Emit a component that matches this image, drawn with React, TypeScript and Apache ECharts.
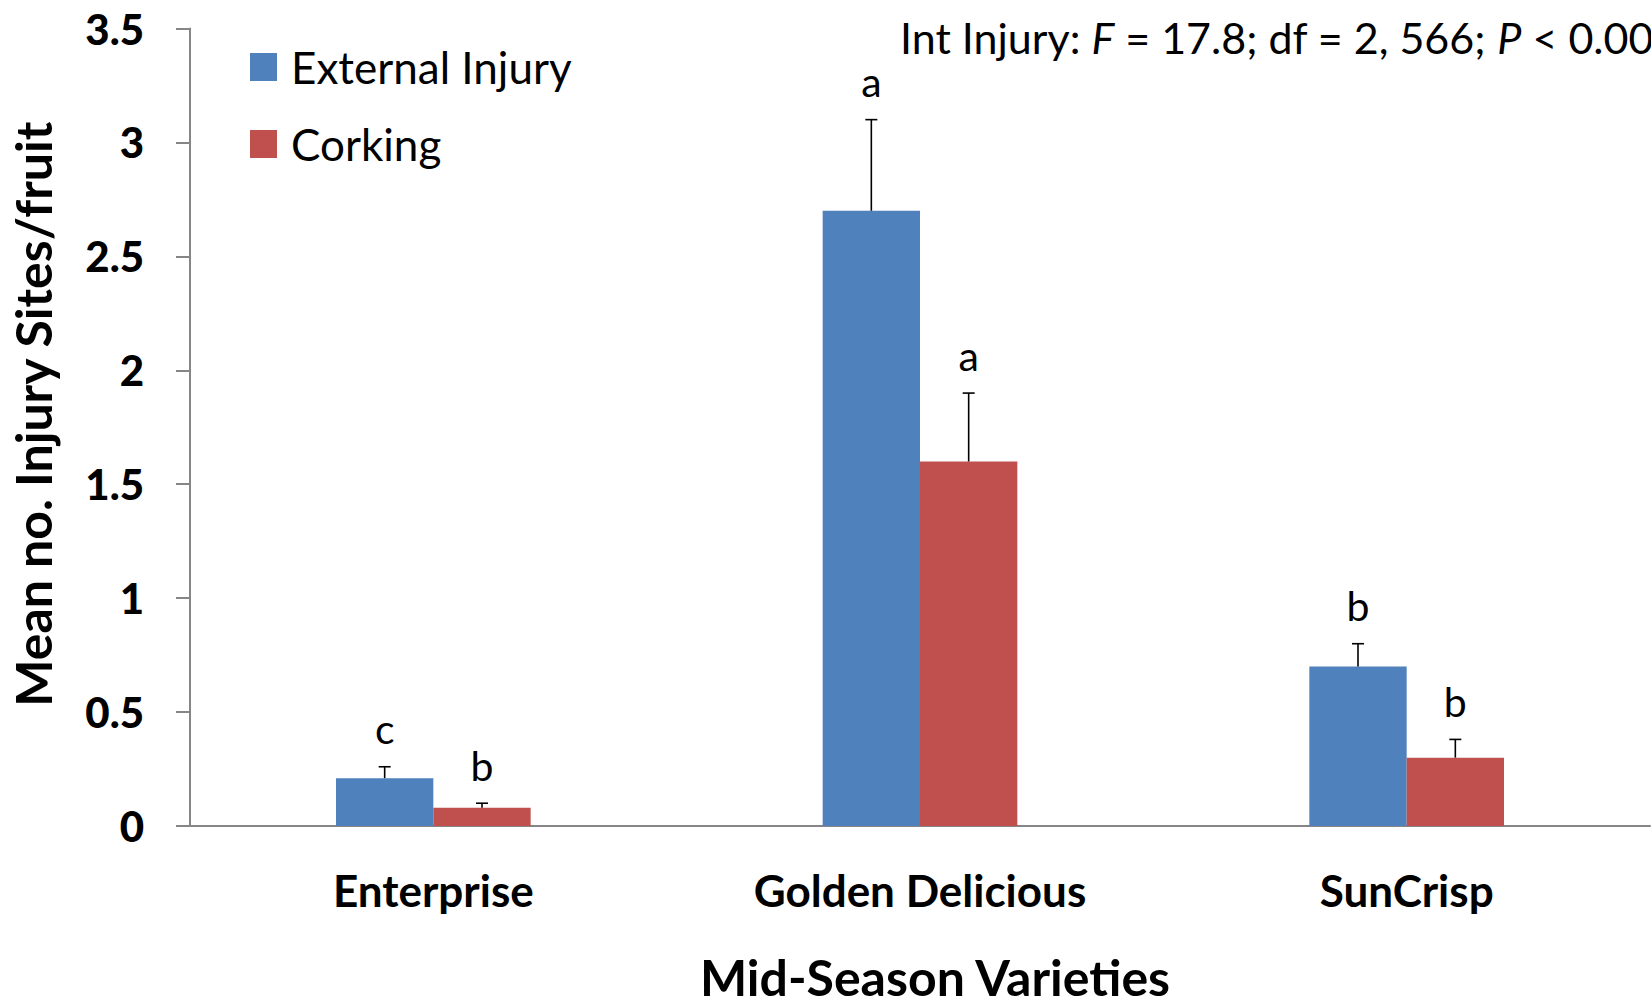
import React, { useEffect, useRef } from "react";
import * as echarts from "echarts";

const categories = ["Enterprise", "Golden Delicious", "SunCrisp"];
const externalInjury = [0.21, 2.7, 0.7];
const externalInjuryUpper = [0.26, 3.1, 0.8];
const externalLetters = ["c", "a", "b"];
const corking = [0.08, 1.6, 0.3];
const corkingUpper = [0.1, 1.9, 0.38];
const corkingLetters = ["b", "a", "b"];
const yTicks = { min: 0, max: 3.5, interval: 0.5 };

const FONT = "Lato, 'Open Sans', sans-serif";
const BLUE = "#4F81BD";
const RED = "#C0504D";

function errorSeries(name: string, values: number[], upper: number[], letters: string[], offset: number) {
  return {
    type: "custom",
    name: name + " error",
    silent: true,
    z: 5,
    data: values.map((v, i) => [i, v, upper[i]]),
    renderItem: (params: any, api: any) => {
      const i = api.value(0);
      const v = api.value(1);
      const hi = api.value(2);
      const band = api.size([1, 0])[0];
      const x = api.coord([i, 0])[0] + offset * band;
      const y0 = api.coord([i, v])[1];
      const y1 = api.coord([i, hi])[1];
      const cap = 6;
      return {
        type: "group",
        children: [
          { type: "line", shape: { x1: x, y1: y0, x2: x, y2: y1 }, style: { stroke: "#000", lineWidth: 1.6 } },
          { type: "line", shape: { x1: x - cap, y1: y1, x2: x + cap, y2: y1 }, style: { stroke: "#000", lineWidth: 1.6 } },
          {
            type: "text",
            x: x,
            y: y1 - 38,
            style: {
              text: letters[params.dataIndex],
              fill: "#000",
              font: `41px ${FONT}`,
              align: "center",
              verticalAlign: "middle",
            },
          },
        ],
      };
    },
  };
}

export default function App() {
  const ref = useRef<HTMLDivElement>(null);
  useEffect(() => {
    if (!ref.current) return;
    const chart = echarts.init(ref.current, null, { renderer: "svg" });
    chart.setOption({
      animation: false,
      backgroundColor: "#fff",
      grid: { left: 190, right: 1, top: 28.5, bottom: 172, containLabel: false, outerBoundsMode: "none" },
      legend: {
        orient: "vertical",
        left: 245,
        top: 40,
        itemWidth: 27,
        itemHeight: 28,
        itemGap: 33,
        icon: "rect",
        data: ["External Injury", "Corking"],
        textStyle: { fontFamily: FONT, fontSize: 44, color: "#000", lineHeight: 44, padding: [0, 0, 0, 9] },
      },
      xAxis: {
        type: "category",
        data: categories,
        axisLine: { lineStyle: { color: "#868686", width: 2 } },
        axisTick: { show: false },
        axisLabel: { fontFamily: FONT, fontSize: 44, fontWeight: "bold", color: "#000", margin: 42 },
        name: "Mid-Season Varieties",
        nameLocation: "middle",
        nameGap: 126,
        nameTextStyle: { fontFamily: FONT, fontSize: 50, fontWeight: "bold", color: "#000", padding: [0, 0, 0, 30] },
      },
      yAxis: {
        type: "value",
        min: yTicks.min,
        max: yTicks.max,
        interval: yTicks.interval,
        axisLine: { show: true, lineStyle: { color: "#868686", width: 2 } },
        axisTick: { show: true, length: 14, lineStyle: { color: "#868686", width: 2 } },
        splitLine: { show: false },
        axisLabel: { fontFamily: FONT, fontSize: 42, fontWeight: 900, color: "#000", margin: 46 },
        name: "Mean no. Injury Sites/fruit",
        nameLocation: "middle",
        nameGap: 132,
        nameTextStyle: { fontFamily: FONT, fontSize: 50, fontWeight: "bold", color: "#000", padding: [0, 0, 0, 26] },
      },
      graphic: [
        {
          type: "text",
          left: 900,
          top: 16,
          style: {
            text: "{n|Int Injury: }{i|F}{n| = 17.8; df = 2, 566; }{i|P}{n| < 0.001}",
            rich: {
              n: { fontFamily: FONT, fontSize: 43, fill: "#000", fontStyle: "normal" },
              i: { fontFamily: FONT, fontSize: 43, fill: "#000", fontStyle: "italic" },
            },
          },
        },
      ],
      series: [
        {
          type: "bar",
          name: "External Injury",
          data: externalInjury,
          barWidth: "20%",
          barGap: "0%",
          itemStyle: { color: BLUE },
        },
        {
          type: "bar",
          name: "Corking",
          data: corking,
          barWidth: "20%",
          barGap: "0%",
          itemStyle: { color: RED },
        },
        errorSeries("External Injury", externalInjury, externalInjuryUpper, externalLetters, -0.1),
        errorSeries("Corking", corking, corkingUpper, corkingLetters, 0.1),
      ],
    });
    return () => chart.dispose();
  }, []);
  return (
    <div
      ref={ref}
      style={{ position: "fixed", left: 0, top: 0, width: 1651, height: 998, background: "#fff" }}
    />
  );
}
